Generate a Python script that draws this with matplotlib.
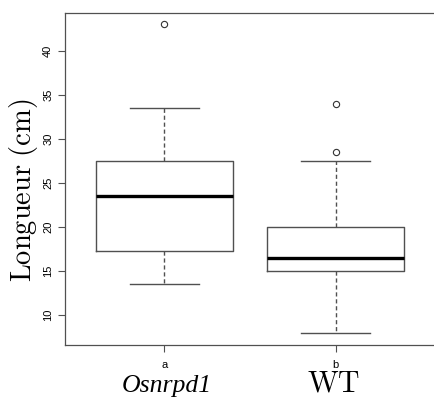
#!/usr/bin/env python3

import matplotlib
matplotlib.use("Agg")
import matplotlib.pyplot as plt

plt.rcParams["mathtext.fontset"] = "cm"
plt.rcParams["font.family"] = ["Liberation Sans", "DejaVu Sans"]

# box statistics
groups = ["Osnrpd1", "WT"]
letters = ["a", "b"]
whislo = [13.5, 8.0]
q1 = [17.3, 15.0]
med = [23.5, 16.5]
q3 = [27.5, 20.0]
whishi = [33.5, 27.5]
fliers = [[43.0], [34.0, 28.5]]

stats = []
for i in range(len(groups)):
    stats.append(dict(whislo=whislo[i], q1=q1[i], med=med[i], q3=q3[i],
                      whishi=whishi[i], fliers=fliers[i], label=letters[i]))

W, H = 434, 399
fig = plt.figure(figsize=(W/100, H/100), dpi=100)
ax = fig.add_axes([65/W, 1 - 345/H, 370/W, 332/H])

gray = "#505050"
ax.bxp(stats, positions=[1, 2], widths=0.8, patch_artist=False,
       boxprops=dict(color=gray, linewidth=1.0),
       medianprops=dict(color="black", linewidth=2.4),
       whiskerprops=dict(color=gray, linewidth=1.0, linestyle=(0, (3, 2))),
       capprops=dict(color=gray, linewidth=1.0),
       capwidths=0.4,
       flierprops=dict(marker="o", markersize=4.5, markerfacecolor="none",
                       markeredgecolor="#333333", markeredgewidth=0.8))

ax.set_xlim(0.42, 2.58)
ax.set_ylim(6.6, 44.3)
ax.set_yticks([10, 15, 20, 25, 30, 35, 40])
ax.set_xticks([1, 2])
ax.set_xticklabels(letters)
for lab in ax.get_yticklabels():
    lab.set_rotation(90)
    lab.set_va("center")
ax.tick_params(axis="both", labelsize=8, color=gray, length=5, width=0.8)
ax.tick_params(axis="y", pad=3.5)
ax.tick_params(axis="x", pad=6)
for s in ax.spines.values():
    s.set_color(gray)
    s.set_linewidth(0.9)

# axis title and group names, placed in figure pixels
fig.text(24/W, 1 - 190/H, r"$\mathrm{Longueur\ (cm)}$", rotation=90,
         ha="center", va="center", fontsize=20.5)
fig.text(167/W, 1 - 392/H, groups[0], family="Liberation Serif", style="italic",
         ha="center", va="baseline", fontsize=18.5)
fig.text(334/W, 1 - 392/H, r"$\mathrm{WT}$", ha="center", va="baseline", fontsize=21.5)

fig.savefig("out.png", dpi=100)
